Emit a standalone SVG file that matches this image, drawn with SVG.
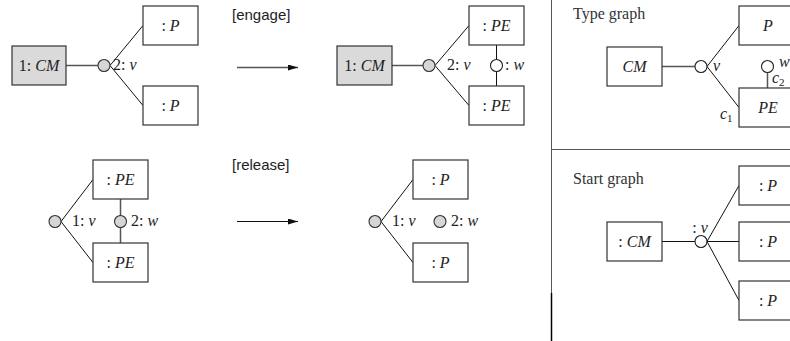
<svg xmlns="http://www.w3.org/2000/svg" width="790" height="341" viewBox="0 0 790 341">
<defs>
<style>
.box{fill:#fff;stroke:#333;stroke-width:1.2}
.gbox{fill:#dadada;stroke:#333;stroke-width:1.2}
.gc{fill:#d6d6d6;stroke:#333;stroke-width:1.1}
.wc{fill:#fff;stroke:#222;stroke-width:1.1}
.e{stroke:#111;stroke-width:1;fill:none}
.eg{stroke:#555;stroke-width:1.5;fill:none}
.t{font-family:"Liberation Serif","DejaVu Serif",serif;font-size:16px;fill:#222}
.m{font-style:italic}
.lab{font-family:"Liberation Sans","DejaVu Sans",sans-serif;font-size:15px;fill:#222}
.ttl{font-family:"Liberation Serif","DejaVu Serif",serif;font-size:16px;fill:#333}
.sep{stroke:#555;stroke-width:1;fill:none}
</style>
<marker id="ah" viewBox="0 0 10 6" refX="10" refY="3" markerWidth="10" markerHeight="6" markerUnits="userSpaceOnUse" orient="auto">
<path d="M0,0 L10,3 L0,6 Z" fill="#111"/>
</marker>
</defs>

<g id="separators">
<line class="sep" x1="551.5" y1="0" x2="551.5" y2="341"/>
<line class="sep" x1="551" y1="149.5" x2="790" y2="149.5"/>
<line x1="551.5" y1="293" x2="551.5" y2="341" stroke="#000" stroke-width="1.5"/>
</g>

<g id="connectors">
<!-- top left -->
<line class="eg" x1="66" y1="65.5" x2="98" y2="65.5"/>
<line class="e" x1="110" y1="65.5" x2="143" y2="25.5"/>
<line class="e" x1="110" y1="65.5" x2="143" y2="105.5"/>
<!-- top middle -->
<line class="eg" x1="392" y1="65.5" x2="423" y2="65.5"/>
<line class="e" x1="435" y1="65.5" x2="469" y2="25.5"/>
<line class="e" x1="435" y1="65.5" x2="469" y2="105.5"/>
<line class="e" x1="496.5" y1="45" x2="496.5" y2="86"/>
<!-- arrows -->
<line x1="237" y1="67.5" x2="298" y2="67.5" stroke="#555" stroke-width="1.3" marker-end="url(#ah)"/>
<line x1="237" y1="221.5" x2="298" y2="221.5" stroke="#111" stroke-width="1.2" marker-end="url(#ah)"/>
<!-- bottom left -->
<line class="e" x1="61" y1="221.5" x2="93" y2="179.5"/>
<line class="e" x1="61" y1="221.5" x2="93" y2="262.5"/>
<line class="eg" x1="120.5" y1="199" x2="120.5" y2="243"/>
<!-- bottom middle -->
<line class="e" x1="381" y1="221.5" x2="413" y2="179.5"/>
<line class="e" x1="381" y1="221.5" x2="413" y2="262.5"/>
<!-- type graph -->
<line class="eg" x1="662" y1="66.5" x2="695" y2="66.5"/>
<line class="e" x1="707" y1="66.5" x2="739" y2="25.5"/>
<line class="e" x1="707" y1="66.5" x2="739" y2="107.5"/>
<line class="eg" x1="767.5" y1="72.5" x2="767.5" y2="88"/>
<!-- start graph -->
<line class="e" x1="662" y1="241.5" x2="695" y2="241.5"/>
<line class="e" x1="707" y1="241.5" x2="739" y2="185.5"/>
<line class="e" x1="707" y1="241.5" x2="739" y2="241.5"/>
<line class="e" x1="707" y1="241.5" x2="739" y2="300.5"/>
</g>

<g id="labels">
<text class="lab" x="232" y="20">[engage]</text>
<text class="lab" x="232" y="170">[release]</text>
<text class="ttl" x="573" y="19">Type graph</text>
<text class="ttl" x="573" y="184">Start graph</text>
</g>

<!-- top left -->
<g id="tl-cm"><rect class="gbox" x="12" y="46" width="54" height="39"/><text class="t" x="39" y="71" text-anchor="middle">1: <tspan class="m">CM</tspan></text></g>
<g id="tl-v"><circle class="gc" cx="104" cy="65.5" r="6"/><text class="t" x="113" y="70">2: <tspan class="m">v</tspan></text></g>
<g id="tl-p1"><rect class="box" x="143" y="6" width="55" height="39"/><text class="t" x="170.5" y="31" text-anchor="middle">: <tspan class="m">P</tspan></text></g>
<g id="tl-p2"><rect class="box" x="143" y="86" width="55" height="39"/><text class="t" x="170.5" y="111" text-anchor="middle">: <tspan class="m">P</tspan></text></g>

<!-- top middle -->
<g id="tm-cm"><rect class="gbox" x="337" y="46" width="55" height="39"/><text class="t" x="364.5" y="71" text-anchor="middle">1: <tspan class="m">CM</tspan></text></g>
<g id="tm-v"><circle class="gc" cx="429" cy="65.5" r="6"/><text class="t" x="447" y="70">2: <tspan class="m">v</tspan></text></g>
<g id="tm-pe1"><rect class="box" x="469" y="6" width="55" height="39"/><text class="t" x="496.5" y="31" text-anchor="middle">: <tspan class="m">PE</tspan></text></g>
<g id="tm-pe2"><rect class="box" x="469" y="86" width="55" height="39"/><text class="t" x="496.5" y="111" text-anchor="middle">: <tspan class="m">PE</tspan></text></g>
<g id="tm-w"><circle class="wc" cx="496.5" cy="65.5" r="6"/><text class="t" x="505" y="70">: <tspan class="m">w</tspan></text></g>

<!-- bottom left -->
<g id="bl-v"><circle class="gc" cx="55" cy="221.5" r="6"/><text class="t" x="72" y="226">1: <tspan class="m">v</tspan></text></g>
<g id="bl-pe1"><rect class="box" x="93" y="160" width="55" height="39"/><text class="t" x="120.5" y="185" text-anchor="middle">: <tspan class="m">PE</tspan></text></g>
<g id="bl-pe2"><rect class="box" x="93" y="243" width="55" height="39"/><text class="t" x="120.5" y="268" text-anchor="middle">: <tspan class="m">PE</tspan></text></g>
<g id="bl-w"><circle class="gc" cx="120.5" cy="221.5" r="6"/><text class="t" x="131" y="226">2: <tspan class="m">w</tspan></text></g>

<!-- bottom middle -->
<g id="bm-v"><circle class="gc" cx="375" cy="221.5" r="6"/><text class="t" x="392" y="226">1: <tspan class="m">v</tspan></text></g>
<g id="bm-p1"><rect class="box" x="413" y="160" width="55" height="39"/><text class="t" x="440.5" y="185" text-anchor="middle">: <tspan class="m">P</tspan></text></g>
<g id="bm-p2"><rect class="box" x="413" y="243" width="55" height="39"/><text class="t" x="440.5" y="268" text-anchor="middle">: <tspan class="m">P</tspan></text></g>
<g id="bm-w"><circle class="gc" cx="440" cy="221.5" r="6"/><text class="t" x="451" y="226">2: <tspan class="m">w</tspan></text></g>

<!-- type graph -->
<g id="tg-cm"><rect class="box" x="607" y="47" width="55" height="39"/><text class="t m" x="634.5" y="72" text-anchor="middle">CM</text></g>
<g id="tg-v"><circle class="wc" cx="701" cy="66.5" r="6"/><text class="t m" x="713" y="71">v</text></g>
<g id="tg-p"><rect class="box" x="739" y="6" width="60" height="39"/><text class="t m" x="768" y="31" text-anchor="middle">P</text></g>
<g id="tg-pe"><rect class="box" x="739" y="88" width="60" height="39"/><text class="t m" x="768" y="113" text-anchor="middle">PE</text><text class="t m" x="720" y="119">c<tspan font-size="11" font-style="normal" dy="3">1</tspan></text></g>
<g id="tg-w"><circle class="wc" cx="767.5" cy="66.5" r="6"/><text class="t m" x="779" y="67">w</text><text class="t m" x="772" y="83">c<tspan font-size="11" font-style="normal" dy="3">2</tspan></text></g>

<!-- start graph -->
<g id="sg-cm"><rect class="box" x="607" y="222" width="55" height="39"/><text class="t" x="634.5" y="247" text-anchor="middle">: <tspan class="m">CM</tspan></text></g>
<g id="sg-v"><circle class="wc" cx="701" cy="241.5" r="6"/><text class="t" x="700" y="233" text-anchor="middle">: <tspan class="m">v</tspan></text></g>
<g id="sg-p1"><rect class="box" x="739" y="166" width="60" height="39"/><text class="t" x="768" y="191" text-anchor="middle">: <tspan class="m">P</tspan></text></g>
<g id="sg-p2"><rect class="box" x="739" y="222" width="60" height="39"/><text class="t" x="768" y="247" text-anchor="middle">: <tspan class="m">P</tspan></text></g>
<g id="sg-p3"><rect class="box" x="739" y="281" width="60" height="39"/><text class="t" x="768" y="306" text-anchor="middle">: <tspan class="m">P</tspan></text></g>
</svg>
